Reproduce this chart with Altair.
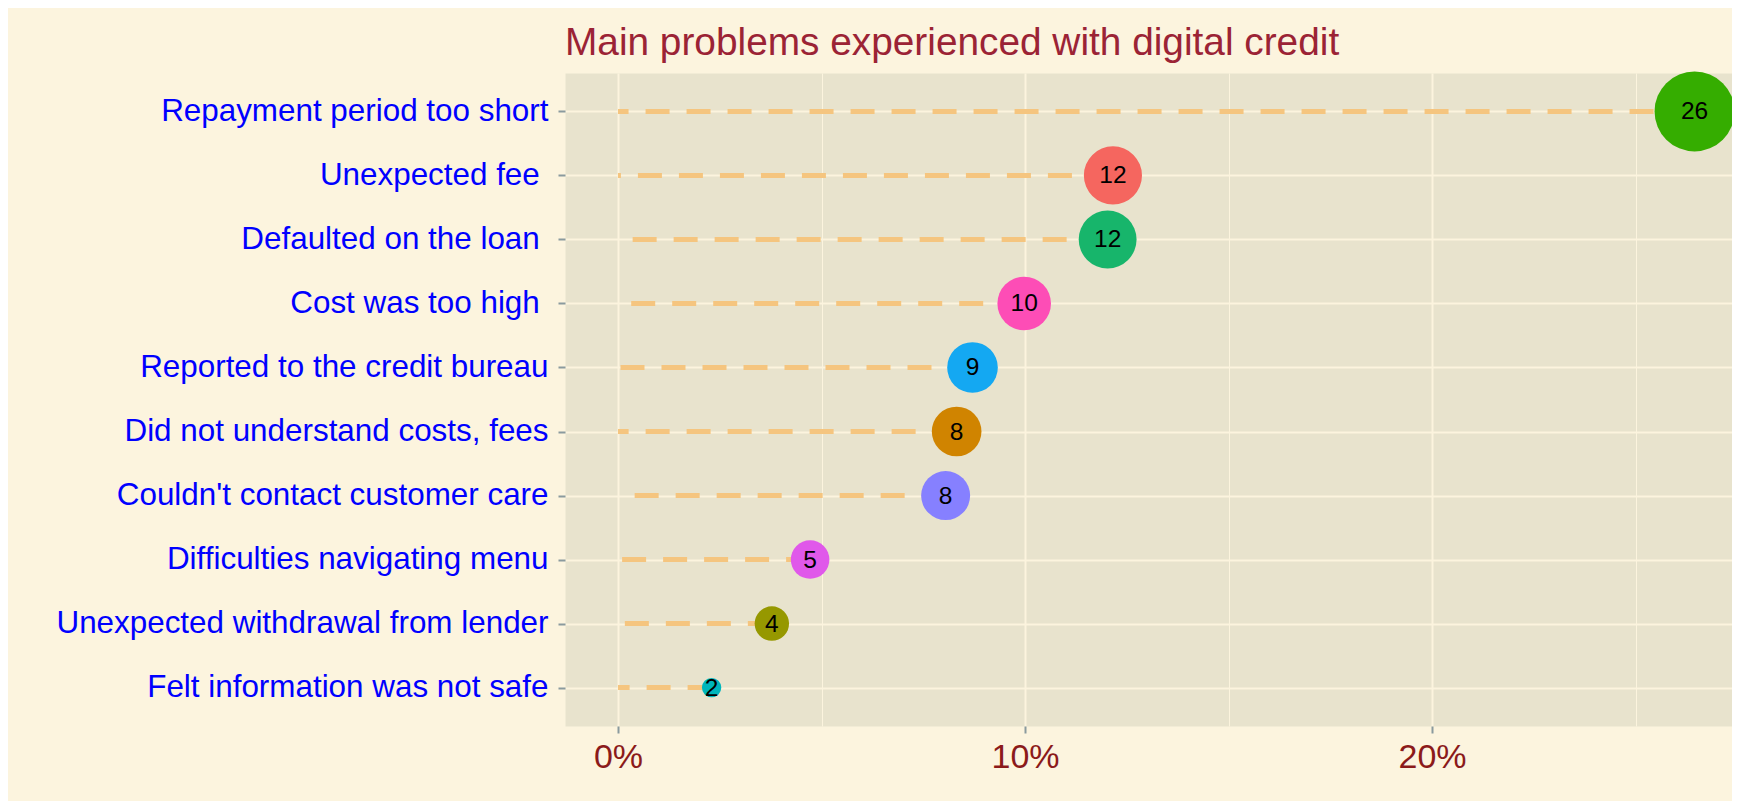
import altair as alt
import pandas as pd

# ---- data ----
# (three labels carry a trailing space in the reference; the zero-width
#  character keeps that space from being trimmed away)
problems = [
    "Repayment period too short",
    "Unexpected fee\u00a0\u200b",
    "Defaulted on the loan\u00a0\u200b",
    "Cost was too high\u00a0\u200b",
    "Reported to the credit bureau",
    "Did not understand costs, fees",
    "Couldn't contact customer care",
    "Difficulties navigating menu",
    "Unexpected withdrawal from lender",
    "Felt information was not safe",
]
values = [26.45, 12.16, 12.03, 9.98, 8.71, 8.32, 8.05, 4.72, 3.78, 2.30]

# ---- styles ----
colors = [
    "#35AD00", "#F5665F", "#17B56B", "#FD4DB6", "#14A8F2",
    "#D08400", "#8680FF", "#E058EA", "#969800", "#00B6BC",
]
major_ticks = [0, 10, 20]
minor_ticks = [5, 15, 25]

FONT = "Liberation Sans, Arial, Helvetica, sans-serif"
CREAM = "#FCF4DE"
PANEL = "#E8E3CD"
TICK = "#8A9A9E"

df = pd.DataFrame({"problem": problems, "value": values})

x_scale = alt.Scale(domain=[-1.302, 27.37], nice=False, zero=False)
y_scale = alt.Scale(type="point", domain=problems, padding=0.6)

y_enc = alt.Y(
    "problem:N",
    scale=y_scale,
    title=None,
    axis=alt.Axis(
        domain=False, ticks=True, tickColor=TICK, tickSize=7, tickWidth=2,
        labelFont=FONT, labelFontSize=31.4, labelColor="blue", labelPadding=10,
        labelLimit=800, grid=True, gridColor=CREAM, gridWidth=2,
    ),
)

base = alt.Chart(df)

segments = base.mark_rule(
    color="#F5C57F", strokeWidth=5, strokeDash=[24, 17], strokeCap="butt"
).encode(
    x=alt.X(
        "value:Q",
        scale=x_scale,
        title=None,
        axis=alt.Axis(
            values=major_ticks, labelExpr="datum.value + '%'", domain=False,
            tickColor=TICK, tickSize=7, tickWidth=2, labelFont=FONT,
            labelFontSize=34, labelColor="#8B1A1A", labelPadding=7,
            grid=True, gridColor=CREAM, gridWidth=2,
        ),
    ),
    x2=alt.datum(0),
    y=y_enc,
)

points = base.transform_joinaggregate(
    vmin="min(value)", vmax="max(value)"
).transform_calculate(
    d="2*(9.7 + 30.3*sqrt((datum.value - datum.vmin)/(datum.vmax - datum.vmin)))"
).transform_calculate(
    area="datum.d*datum.d"
).mark_point(filled=True, opacity=1, shape="circle", strokeWidth=0).encode(
    x=alt.X("value:Q", scale=x_scale, axis=None),
    y=y_enc,
    color=alt.Color("problem:N", scale=alt.Scale(domain=problems, range=colors), legend=None),
    size=alt.Size("area:Q", scale=None),
)

labels = base.mark_text(
    font=FONT, fontSize=24.5, color="black", align="center", baseline="middle", dy=1
).encode(
    x=alt.X(
        "value:Q",
        scale=x_scale,
        title=None,
        axis=alt.Axis(
            values=minor_ticks, labels=False, ticks=False, domain=False,
            grid=True, gridColor=CREAM, gridWidth=1,
        ),
    ),
    y=y_enc,
    text=alt.Text("value:Q", format=".0f"),
)

chart = (
    alt.layer(segments, points, labels)
    .resolve_axis(x="independent")
    .properties(
        width=1167,
        height=653,
        autosize=alt.AutoSizeParams(type="none"),
        padding={"left": 557, "top": 65, "right": 0, "bottom": 75},
        background=CREAM,
        title=alt.TitleParams(
            text="Main problems experienced with digital credit",
            anchor="start", frame="group", font=FONT, fontSize=38.8,
            fontWeight="normal", color="#9B2335", offset=-22,
            baseline="alphabetic",
        ),
    )
    .configure_view(fill=PANEL, stroke="transparent")
)

chart.save("out.html", embed_options={"renderer": "svg", "actions": False})
